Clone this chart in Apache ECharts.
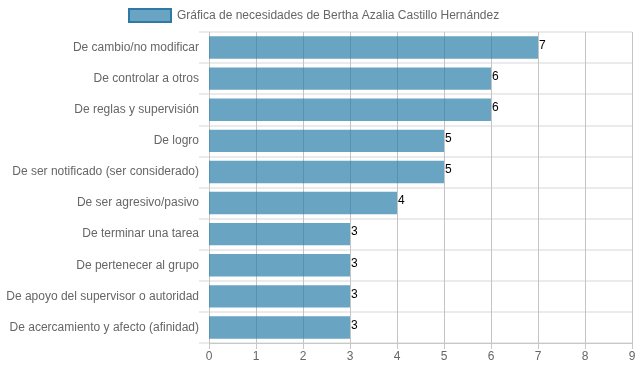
<!DOCTYPE html>
<html>
<head>
<meta charset="utf-8">
<script src="https://cdn.jsdelivr.net/npm/echarts@6/dist/echarts.min.js"></script>
<style>html,body{margin:0;padding:0;background:#fff;}#c{width:639px;height:372px;}</style>
</head>
<body>
<div id="c"></div>
<script>
const categories = [
  "De cambio/no modificar",
  "De controlar a otros",
  "De reglas y supervisión",
  "De logro",
  "De ser notificado (ser considerado)",
  "De ser agresivo/pasivo",
  "De terminar una tarea",
  "De pertenecer al grupo",
  "De apoyo del supervisor o autoridad",
  "De acercamiento y afecto (afinidad)"
];
const values = [7, 6, 6, 5, 5, 4, 3, 3, 3, 3];
const seriesName = "Gráfica de necesidades de Bertha Azalia Castillo Hernández";
const xTicks = [0, 1, 2, 3, 4, 5, 6, 7, 8, 9];

const chart = echarts.init(document.getElementById('c'));
const font = "'Liberation Sans', Arial, sans-serif";
chart.setOption({
  animation: false,
  textStyle: { fontFamily: font },
  legend: {
    top: 8,
    left: 128,
    padding: 0,
    icon: 'rect',
    itemWidth: 42,
    itemHeight: 13,
    itemGap: 6,
    textStyle: { color: '#666', fontSize: 12, fontFamily: font, padding: [0, 0, 0, 1] },
    itemStyle: { color: '#6aa4c3', borderColor: '#2f79a6', borderWidth: 2 },
    data: [seriesName]
  },
  grid: { left: 209, right: 7, top: 32, bottom: 29 },
  xAxis: {
    type: 'value',
    min: xTicks[0],
    max: xTicks[xTicks.length - 1],
    interval: 1,
    axisLine: { show: true, lineStyle: { color: '#c8c8c8' } },
    axisTick: { show: true, length: 6, lineStyle: { color: '#c8c8c8' } },
    splitLine: { show: true, lineStyle: { color: '#c4c4c4', width: 1 } },
    axisLabel: { color: '#666', fontSize: 12, margin: 8, fontFamily: font }
  },
  yAxis: {
    type: 'category',
    inverse: true,
    data: categories,
    axisLine: { show: false },
    axisTick: { show: true, length: 10, lineStyle: { color: '#ebebeb', width: 2 } },
    splitLine: { show: true, lineStyle: { color: '#ebebeb', width: 2 } },
    axisLabel: { color: '#666', fontSize: 12, margin: 10, fontFamily: font }
  },
  series: [{
    name: seriesName,
    type: 'bar',
    data: values,
    barWidth: '72%',
    itemStyle: { color: 'rgba(42,125,170,0.7)' },
    label: {
      show: true,
      position: 'right',
      distance: 1,
      offset: [0, -2],
      color: '#000',
      fontSize: 12,
      fontFamily: font
    }
  }]
});
</script>
</body>
</html>
